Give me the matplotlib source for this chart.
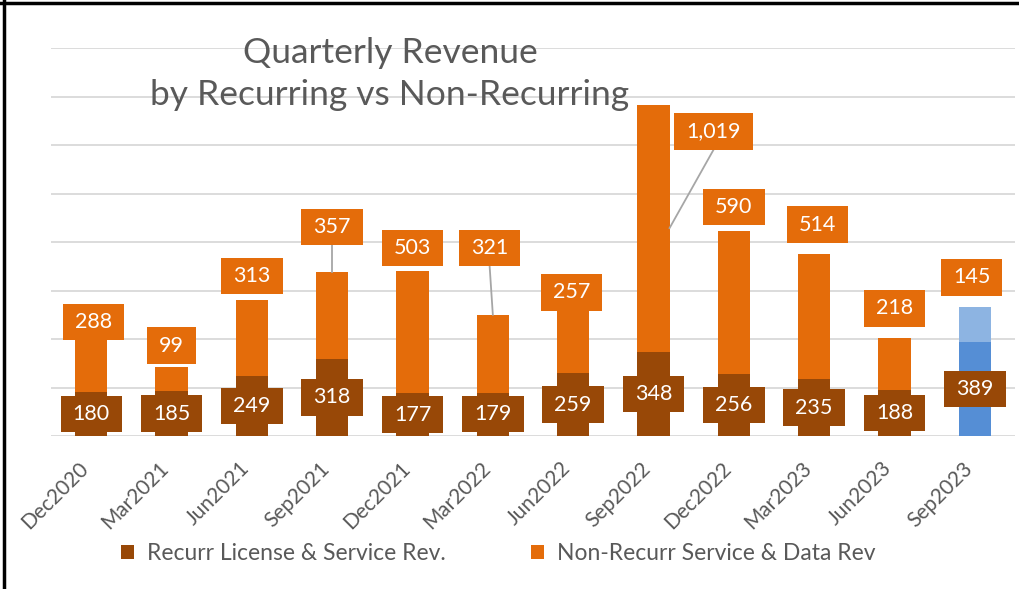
import matplotlib
matplotlib.use('Agg')
import matplotlib.pyplot as plt
from matplotlib.path import Path
from matplotlib.patches import Patch
from matplotlib.lines import Line2D
import matplotlib.transforms as mtransforms
import numpy as np

plt.rcParams['font.family'] = ['Lato', 'DejaVu Sans']

# 数据
quarters = ['Dec2020', 'Mar2021', 'Jun2021', 'Sep2021', 'Dec2021', 'Mar2022',
            'Jun2022', 'Sep2022', 'Dec2022', 'Mar2023', 'Jun2023', 'Sep2023']
recurring = [180, 185, 249, 318, 177, 179, 259, 348, 256, 235, 188, 389]
non_recurring = [288, 99, 313, 357, 503, 321, 257, 1019, 590, 514, 218, 145]

# 标签位置 (手动移动过的数据标签)
nonrec_label_y = [470, 373, 660, 862, 775, 775, 592, 1256, 944, 872, 526, 654]
nonrec_label_dx = [0.03, 0, 0, 0, 0, -0.04, -0.02, 0.75, 0, 0.04, 0, -0.04]
leaders = {3: 'top', 5: 'top', 7: 'side'}

ORANGE = '#E46C0A'
BROWN = '#984807'
BLUE_DARK = '#558ED5'
BLUE_LIGHT = '#8DB4E2'
GRAY_TEXT = '#595959'


def label_box(x0, y0, width, height, mutation_size):
    px = 0.56 * mutation_size
    py = 0.38 * mutation_size
    x0 -= px
    y0 -= py
    x1 = x0 + width + 2 * px
    y1 = y0 + height + 2 * py
    return Path([(x0, y0), (x1, y0), (x1, y1), (x0, y1), (x0, y0)], closed=True)


fig = plt.figure(figsize=(10.19, 5.89), dpi=100)
ax = fig.add_axes([51 / 1019, (589 - 436) / 589, (1015 - 51) / 1019, (436 - 48) / 589])

x = np.arange(len(quarters))
rec_colors = [BROWN] * (len(x) - 1) + [BLUE_DARK]
non_colors = [ORANGE] * (len(x) - 1) + [BLUE_LIGHT]

ax.bar(x, recurring, width=0.4, color=rec_colors, zorder=2)
ax.bar(x, non_recurring, width=0.4, bottom=recurring, color=non_colors, zorder=2)

ax.set_xlim(-0.5, len(x) - 0.5)
ax.set_ylim(0, 1600)
ax.set_yticks(np.arange(0, 1601, 200))
ax.set_yticklabels([])
ax.yaxis.grid(True, color='#D9D9D9', linewidth=1.3)
ax.set_axisbelow(True)
ax.tick_params(axis='y', length=0)
for s in ax.spines.values():
    s.set_visible(False)

ax.set_xticks(x)
ax.set_xticklabels(quarters, fontsize=15, color=GRAY_TEXT)
ax.tick_params(axis='x', length=0, pad=21)
offset = mtransforms.ScaledTranslation(-4 / 72, 0, fig.dpi_scale_trans)
for lbl in ax.get_xticklabels():
    lbl.set_rotation(45)
    lbl.set_ha('right')
    lbl.set_va('center')
    lbl.set_rotation_mode('anchor')
    lbl.set_transform(lbl.get_transform() + offset)

# 数据标签
half_box = 74
for i in x:
    ax.text(i, recurring[i] / 2, f'{recurring[i]:,}', ha='center', va='center',
            fontsize=15.5, color='white', zorder=5,
            bbox=dict(boxstyle=label_box, facecolor=BROWN, edgecolor='none'))
    lx = i + nonrec_label_dx[i]
    ly = nonrec_label_y[i]
    ax.text(lx, ly, f'{non_recurring[i]:,}', ha='center', va='center',
            fontsize=15.5, color='white', zorder=5,
            bbox=dict(boxstyle=label_box, facecolor=ORANGE, edgecolor='none'))
    if i in leaders:
        total = recurring[i] + non_recurring[i]
        if leaders[i] == 'top':
            ax.plot([lx, i], [ly - half_box, total], color='#A6A6A6', linewidth=1.3, zorder=3)
        else:
            ax.plot([lx, i + 0.2], [ly - half_box, recurring[i] + non_recurring[i] / 2],
                    color='#A6A6A6', linewidth=1.3, zorder=3)

# 标题
fig.text(390 / 1019, 1 - 37 / 589, 'Quarterly Revenue\nby Recurring vs Non-Recurring',
         ha='center', va='top', fontsize=25.5, color=GRAY_TEXT, linespacing=1.38)

# 图例
handles = [Patch(facecolor=BROWN), Patch(facecolor=ORANGE)]
fig.legend(handles, ['Recurr License & Service Rev.', 'Non-Recurr Service & Data Rev'],
           loc='center', bbox_to_anchor=(498 / 1019, 1 - 554 / 589), ncol=2,
           frameon=False, fontsize=16.5, labelcolor=GRAY_TEXT,
           handlelength=0.57, handleheight=0.57, handletextpad=0.57, columnspacing=3.7)

# 外框
fig.add_artist(Line2D([3.5 / 1019, 3.5 / 1019], [0, 1], color='black', linewidth=2.5))
fig.add_artist(Line2D([0, 1], [1 - 2.5 / 589, 1 - 2.5 / 589], color='black', linewidth=2.5))

plt.savefig('out.png', dpi=100)
plt.close(fig)
